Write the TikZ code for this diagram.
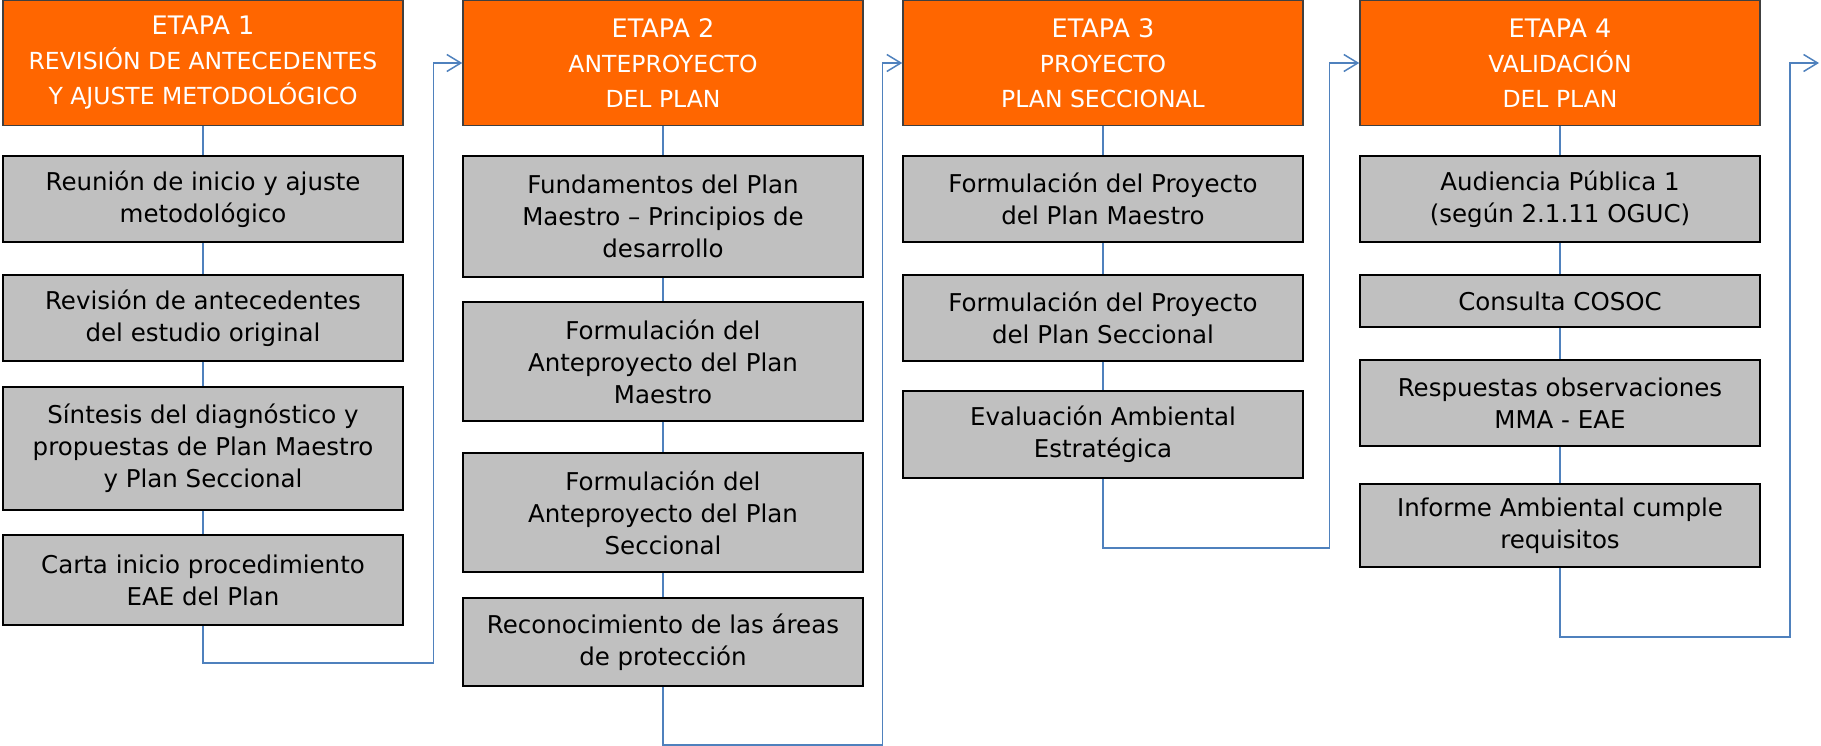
\documentclass[tikz,border=0pt]{standalone}
\usepackage{fontspec}
\setmainfont{DejaVu Sans}
\usetikzlibrary{arrows.meta}
\definecolor{etapaorange}{RGB}{255,102,0}
\definecolor{boxgray}{RGB}{192,192,192}
\definecolor{linkblue}{RGB}{79,129,189}
\tikzset{x=1pt, y=-1pt,
         etapa/.style={ % orange stage headers
           draw=black!75, line width=1.5pt,
           fill=etapaorange, text=white,
           minimum width=400pt, minimum height=125pt,
           inner sep=0pt, align=center,
           font=\fontsize{23.5}{35}\selectfont},
         tarea/.style={ % grey task boxes
           draw=black, line width=1.8pt,
           fill=boxgray, anchor=north,
           minimum width=400pt,
           inner sep=0pt, align=center,
           font=\fontsize{24.5}{32}\selectfont},
         link/.style={draw=linkblue, line width=1.5pt},
         flow/.style={link, -{Straight Barb[length=14pt,width=17pt,line width=1.5pt]}}}
\newcommand{\etapanum}[1]{{\fontsize{25.5}{35}\selectfont ETAPA #1}}

\begin{document}
\begin{tikzpicture}
  \useasboundingbox (0,0) rectangle (1821,746);

  % Etapa 1
  \node[etapa] (h1) at (203,63) {\etapanum{1}\\REVISIÓN DE ANTECEDENTES\\Y AJUSTE METODOLÓGICO};
  \node[tarea, minimum height=86pt] (a1) at (203,155) {Reunión de inicio y ajuste\\metodológico};
  \node[tarea, minimum height=86pt] (a2) at (203,274) {Revisión de antecedentes\\del estudio original};
  \node[tarea, minimum height=123pt] (a3) at (203,386) {Síntesis del diagnóstico y\\propuestas de Plan Maestro\\y Plan Seccional};
  \node[tarea, minimum height=90pt] (a4) at (203,534) {Carta inicio procedimiento\\EAE del Plan};

  % Etapa 2
  \node[etapa] (h2) at (663,63) {\etapanum{2}\\ANTEPROYECTO\\DEL PLAN};
  \node[tarea, minimum height=121pt] (b1) at (663,155) {Fundamentos del Plan\\Maestro – Principios de\\desarrollo};
  \node[tarea, minimum height=119pt] (b2) at (663,301) {Formulación del\\Anteproyecto del Plan\\Maestro};
  \node[tarea, minimum height=119pt] (b3) at (663,452) {Formulación del\\Anteproyecto del Plan\\Seccional};
  \node[tarea, minimum height=88pt] (b4) at (663,597) {Reconocimiento de las áreas\\de protección};

  % Etapa 3
  \node[etapa] (h3) at (1103,63) {\etapanum{3}\\PROYECTO\\PLAN SECCIONAL};
  \node[tarea, minimum height=86pt] (c1) at (1103,155) {Formulación del Proyecto\\del Plan Maestro};
  \node[tarea, minimum height=86pt] (c2) at (1103,274) {Formulación del Proyecto\\del Plan Seccional};
  \node[tarea, minimum height=87pt] (c3) at (1103,390) {Evaluación Ambiental\\Estratégica};

  % Etapa 4
  \node[etapa] (h4) at (1560,63) {\etapanum{4}\\VALIDACIÓN\\DEL PLAN};
  \node[tarea, minimum height=86pt] (d1) at (1560,155) {Audiencia Pública 1\\(según 2.1.11 OGUC)};
  \node[tarea, minimum height=52pt] (d2) at (1560,274) {Consulta COSOC};
  \node[tarea, minimum height=86pt] (d3) at (1560,359) {Respuestas observaciones\\MMA - EAE};
  \node[tarea, minimum height=83pt] (d4) at (1560,483) {Informe Ambiental cumple\\requisitos};

  \coordinate (fin) at (1819,63);

  % vertical links inside each stage
  \foreach \u/\v in {h1/a1,a1/a2,a2/a3,a3/a4,
                     h2/b1,b1/b2,b2/b3,b3/b4,
                     h3/c1,c1/c2,c2/c3,
                     h4/d1,d1/d2,d2/d3,d3/d4}
    \draw[link] (\u) -- (\v);

  % links between stages
  \draw[flow] (a4.south) -- ++(0,37) -| ([xshift=-29pt]h2.west) -- (h2.west);
  \draw[flow] (b4.south) -- ++(0,58) -| ([xshift=-20pt]h3.west) -- (h3.west);
  \draw[flow] (c3.south) -- ++(0,69) -| ([xshift=-30pt]h4.west) -- (h4.west);
  \draw[flow] (d4.south) -- ++(0,69) -| ([xshift=-29pt]fin) -- (fin);
\end{tikzpicture}
\end{document}
